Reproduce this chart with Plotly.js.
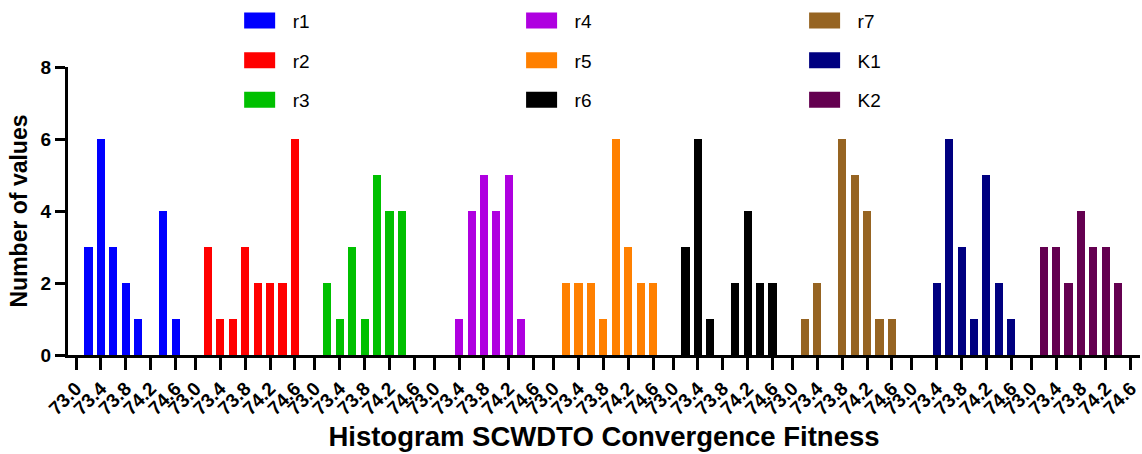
<!DOCTYPE html>
<html>
<head>
<meta charset="utf-8">
<script src="https://cdn.plot.ly/plotly-3.0.1.min.js"></script>
<style>html,body{margin:0;padding:0;background:#fff;}#chart{width:1142px;height:454px;}</style>
</head>
<body>
<div id="chart"></div>
<script>
// ---- data ----
const binCenters = [73.2, 73.4, 73.6, 73.8, 74.0, 74.2, 74.4, 74.6];
const tickValues = [73.0, 73.4, 73.8, 74.2, 74.6];
const tickLabels = ["73.0", "73.4", "73.8", "74.2", "74.6"];
const seriesNames = ["r1", "r2", "r3", "r4", "r5", "r6", "r7", "K1", "K2"];
const r1 = [3, 6, 3, 2, 1, 0, 4, 1];
const r2 = [3, 1, 1, 3, 2, 2, 2, 6];
const r3 = [2, 1, 3, 1, 5, 4, 4, 0];
const r4 = [0, 1, 4, 5, 4, 5, 1, 0];
const r5 = [2, 2, 2, 1, 6, 3, 2, 2];
const r6 = [3, 6, 1, 0, 2, 4, 2, 2];
const r7 = [1, 2, 0, 6, 5, 4, 1, 1];
const K1 = [0, 2, 6, 3, 1, 5, 2, 1];
const K2 = [3, 3, 2, 4, 3, 3, 2, 0];
const seriesValues = [r1, r2, r3, r4, r5, r6, r7, K1, K2];
const seriesColors = ["#0000FF", "#FF0000", "#00C000", "#AF00E0", "#FF8000", "#000000", "#966422", "#000080", "#640050"];

// ---- layout helpers ----
const PERIOD = 1.92;   // horizontal spacing between the stacked histogram panels
const ORIGIN = 73.0;
const legendIds = ["legend", "legend", "legend", "legend2", "legend2", "legend2", "legend3", "legend3", "legend3"];

const traces = seriesNames.map((name, g) => ({
  type: "bar",
  name: name,
  x: binCenters.map(c => g * PERIOD + (c - ORIGIN)),
  y: seriesValues[g],
  width: 0.13,
  marker: {color: seriesColors[g], line: {width: 0}},
  legend: legendIds[g],
  legendgroup: name,
  hoverinfo: "y"
}));

const tickvals = [], ticktext = [];
seriesNames.forEach((_, g) => {
  tickValues.forEach((t, i) => {
    tickvals.push(g * PERIOD + (t - ORIGIN));
    ticktext.push(tickLabels[i]);
  });
});

const FONT = "Arial, 'Liberation Sans', sans-serif";
const legendBase = {
  xanchor: "left", yanchor: "top", y: 1.227,
  orientation: "v",
  font: {family: FONT, size: 19, color: "#000"},
  itemwidth: 56, tracegroupgap: 12,
  bgcolor: "rgba(0,0,0,0)", borderwidth: 0
};

const layout = {
  width: 1142, height: 454,
  margin: {l: 68, r: 2, t: 67, b: 99, pad: 0},
  paper_bgcolor: "#fff", plot_bgcolor: "#fff",
  font: {family: FONT, color: "#000"},
  bargap: 0,
  showlegend: true,
  legend: Object.assign({}, legendBase, {x: 0.148}),
  legend2: Object.assign({}, legendBase, {x: 0.411}),
  legend3: Object.assign({}, legendBase, {x: 0.675}),
  xaxis: {
    range: [-0.13, 17.11],
    tickmode: "array", tickvals: tickvals, ticktext: ticktext,
    tickangle: -45,
    tickfont: {family: FONT, size: 19, color: "#000", weight: "bold"},
    ticks: "outside", ticklen: 12, tickwidth: 3, tickcolor: "#000",
    showline: true, linewidth: 3, linecolor: "#000",
    showgrid: false, zeroline: false,
    title: {text: "<b>Histogram SCWDTO Convergence Fitness</b>", font: {family: FONT, size: 27.5, color: "#000"}, standoff: 9},
    automargin: false
  },
  yaxis: {
    range: [0, 8],
    tickmode: "array", tickvals: [0, 2, 4, 6, 8], ticktext: ["0", "2", "4", "6", "8"],
    tickfont: {family: FONT, size: 19, color: "#000", weight: "bold"},
    ticks: "outside", ticklen: 10, tickwidth: 3, tickcolor: "#000",
    showline: true, linewidth: 3, linecolor: "#000",
    showgrid: false, zeroline: false,
    title: {text: "<b>Number of values</b>", font: {family: FONT, size: 23, color: "#000"}, standoff: 7},
    automargin: false
  }
};

Plotly.newPlot("chart", traces, layout, {displayModeBar: false, staticPlot: true}).then(gd => {
  // widen the legend swatches to the wide rectangles of the original figure
  gd.querySelectorAll(".legendpoints path").forEach(p => {
    p.setAttribute("d", "M15.5,8H-15.5V-8H15.5Z");
  });
});
</script>
</body>
</html>
